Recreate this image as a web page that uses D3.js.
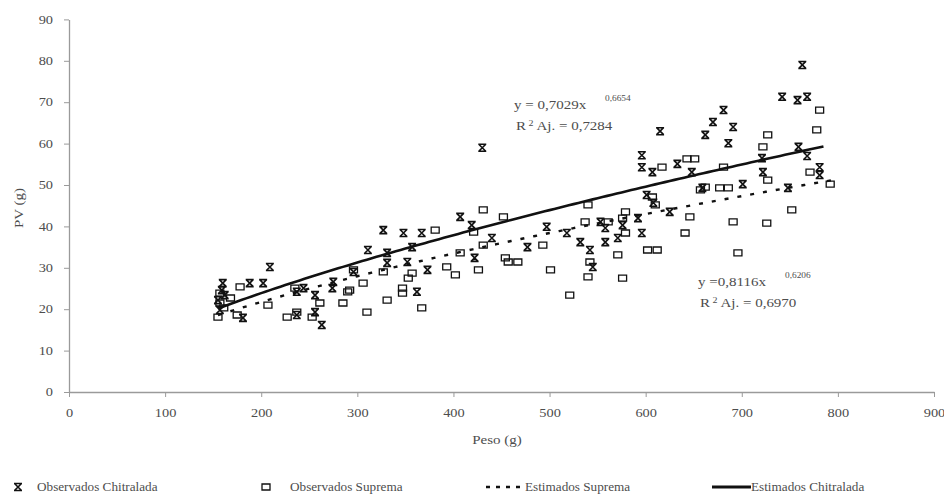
<!DOCTYPE html>
<html>
<head>
<meta charset="utf-8">
<script src="https://cdn.jsdelivr.net/npm/d3@7"></script>
<style>
  html, body { margin: 0; padding: 0; background: #fff; }
  svg { display: block; }
  text { font-family: "Liberation Serif", "DejaVu Serif", serif; }
</style>
</head>
<body>
<svg id="chart" width="944" height="504"></svg>
<script>
// Peso (g) vs PV (g), tilapia strains Chitralada and Suprema
const chitraladaPeso = [160,159,155,157,162,188,202,209,181,237,237,256,263,274,296,244,256,
  311,327,348,367,357,331,331,352,373,275,362,407,419,440,422,430,
  477,497,518,553,558,532,542,558,576,592,596,545,625,601,608,571,
  763,742,758,768,681,670,691,662,686,615,721,759,768,596,596,607,633,648,722,701,659,748,781,781];
const chitraladaPV = [26.3,24.6,22.2,19.8,23.4,26.3,26.3,30.2,17.9,18.6,24.2,19.3,16.2,25.1,29.0,25.1,23.4,
  34.3,39.1,38.4,38.4,35.0,33.6,31.2,31.4,29.5,26.6,24.2,42.3,40.3,37.2,32.4,59.0,
  35.0,39.9,38.4,41.1,39.6,36.2,34.3,36.2,40.3,42.0,38.4,30.2,43.5,47.6,45.7,37.2,
  79.0,71.3,70.5,71.3,68.1,65.2,64.0,62.1,60.1,63.0,56.5,59.2,57.0,57.2,54.3,53.1,55.1,53.1,53.1,50.2,49.3,49.3,54.3,52.4];

const supremaPeso = [157,157,155,178,175,207,227,253,261,285,292,161,168,
  381,431,452,421,431,407,426,393,402,454,357,353,327,296,306,290,235,237,310,331,347,347,367,
  540,537,561,579,576,579,571,542,540,576,602,612,641,646,493,457,467,501,521,607,657,
  781,778,727,722,617,643,651,681,727,662,677,686,771,792,752,610,726,691,696];
const supremaPV = [23.9,21.5,18.1,25.4,18.6,21.0,18.1,18.1,21.5,21.5,24.6,20.3,22.7,
  39.1,44.0,42.3,38.6,35.5,33.6,29.5,30.2,28.3,32.4,28.7,27.5,29.0,29.5,26.3,24.2,25.1,19.3,19.3,22.2,23.9,25.1,20.3,
  45.2,41.1,41.1,43.5,42.0,38.4,33.1,31.4,27.8,27.5,34.3,34.3,38.4,42.3,35.5,31.4,31.4,29.5,23.4,47.1,48.8,
  68.1,63.3,62.1,59.2,54.3,56.3,56.3,54.3,51.2,49.5,49.3,49.3,53.1,50.2,44.0,45.2,40.8,41.1,33.6];

// Fitted power curves y = a * x^b
const fitChitralada = { a: 0.7029, b: 0.6654, r2: "0,7284", from: 155, to: 785 };
const fitSuprema    = { a: 0.8116, b: 0.6206, r2: "0,6970", from: 155, to: 795 };

const xTicks = [0,100,200,300,400,500,600,700,800,900];
const yTicks = [0,10,20,30,40,50,60,70,80,90];

const legendLabels = ["Observados Chitralada", "Observados Suprema", "Estimados Suprema", "Estimados Chitralada"];

const svg = d3.select("#chart");
const x = d3.scaleLinear().domain([0, 900]).range([69, 934]);
const y = d3.scaleLinear().domain([0, 90]).range([392, 19.4]);

const axisColor = "#9a9a9a";
const textColor = "#4d4d4d";
const markColor = "#111";
const SX = 1.25;          // horizontal stretch of the serif lettering
const fs = "12px";

// text drawn at (px, py), stretched horizontally around its anchor
function label(parent, px, py, txt, size, anchor, sx) {
  return parent.append("text")
    .attr("transform", `translate(${px},${py}) scale(${sx || SX},1)`)
    .attr("text-anchor", anchor || "start")
    .attr("fill", textColor)
    .style("font-size", size || fs)
    .text(txt);
}

// axes
const gx = svg.append("g").attr("transform", `translate(0,${y(0)})`)
  .call(d3.axisBottom(x).tickValues(xTicks).tickSize(5).tickSizeOuter(0).tickPadding(12));
const gy = svg.append("g").attr("transform", `translate(${x(0)},0)`)
  .call(d3.axisLeft(y).tickValues(yTicks).tickSize(5).tickSizeOuter(0).tickPadding(11));
[gx, gy].forEach(g => {
  g.selectAll("path.domain").attr("stroke", axisColor).attr("stroke-width", 1.3);
  g.selectAll(".tick line").attr("stroke", axisColor).attr("stroke-width", 1);
  g.selectAll(".tick text").attr("fill", textColor)
    .style("font-family", '"Liberation Serif", serif').style("font-size", "11.5px");
});
gx.selectAll(".tick text").attr("transform", `scale(${SX},1)`);
gy.selectAll(".tick text").each(function () {
  const t = d3.select(this);
  t.attr("x", +t.attr("x") / SX).attr("transform", `scale(${SX},1)`);
});

// axis titles
label(svg, 497, 444, "Peso (g)", fs, "middle");
svg.append("text").attr("transform", `translate(23,208) rotate(-90) scale(${SX},1)`)
  .attr("text-anchor", "middle").attr("fill", textColor).style("font-size", fs).text("PV (g)");

// fitted curves
function curvePoints(fit) {
  const pts = [];
  for (let g = fit.from; g <= fit.to; g += 5) pts.push([g, fit.a * Math.pow(g, fit.b)]);
  return pts;
}
const line = d3.line().x(d => x(d[0])).y(d => y(d[1]));

// markers
const crossPath = "M-4,-3.5 L4,-3.5 M-4,3.5 L4,3.5 M-3.5,-3.5 L3.5,3.5 M3.5,-3.5 L-3.5,3.5";
const squarePath = "M-4,-3 h8 v6 h-8 z";

svg.append("g").selectAll("path").data(d3.zip(supremaPeso, supremaPV)).join("path")
  .attr("transform", d => `translate(${x(d[0])},${y(d[1])})`)
  .attr("d", squarePath).attr("fill", "none").attr("stroke", markColor).attr("stroke-width", 1.3);

svg.append("g").selectAll("path").data(d3.zip(chitraladaPeso, chitraladaPV)).join("path")
  .attr("transform", d => `translate(${x(d[0])},${y(d[1])})`)
  .attr("d", crossPath).attr("fill", "none").attr("stroke", markColor).attr("stroke-width", 1.6);

svg.append("path").datum(curvePoints(fitSuprema)).attr("d", line)
  .attr("fill", "none").attr("stroke", markColor).attr("stroke-width", 2.4)
  .attr("stroke-dasharray", "4,9");
svg.append("path").datum(curvePoints(fitChitralada)).attr("d", line)
  .attr("fill", "none").attr("stroke", markColor).attr("stroke-width", 2.6);

// equation labels
const comma = v => v.toFixed(4).replace(".", ",");
function equation(fit, px, py, supX, eqText) {
  const g = svg.append("g");
  label(g, px, py, eqText);
  label(g, supX, py - 8, comma(fit.b), "7.5px");
  const r = label(g, px + 2, py + 21, "");
  r.append("tspan").text("R");
  r.append("tspan").attr("dy", -4).style("font-size", "8px").text(" 2");
  r.append("tspan").attr("dy", 4).text(" Aj. = " + fit.r2);
}
equation(fitChitralada, 514, 109, 605, "y = " + comma(fitChitralada.a) + "x");
equation(fitSuprema, 698, 286, 785, "y =" + comma(fitSuprema.a) + "x");

// legend
const ly = 491;
const LS = 1.1;
const lg = svg.append("g");
lg.append("path").attr("transform", `translate(18,${ly - 4})`).attr("d", crossPath)
  .attr("fill", "none").attr("stroke", markColor).attr("stroke-width", 1.6);
label(lg, 37, ly, legendLabels[0], fs, "start", LS);
lg.append("path").attr("transform", `translate(266,${ly - 4})`).attr("d", squarePath)
  .attr("fill", "none").attr("stroke", markColor).attr("stroke-width", 1.3);
label(lg, 290, ly, legendLabels[1], fs, "start", LS);
lg.append("line").attr("x1", 486).attr("x2", 524).attr("y1", ly - 4).attr("y2", ly - 4)
  .attr("stroke", markColor).attr("stroke-width", 2.4).attr("stroke-dasharray", "4,6");
label(lg, 525, ly, legendLabels[2], fs, "start", LS);
lg.append("line").attr("x1", 712).attr("x2", 751).attr("y1", ly - 4).attr("y2", ly - 4)
  .attr("stroke", markColor).attr("stroke-width", 2.8);
label(lg, 751, ly, legendLabels[3], fs, "start", LS);
</script>
</body>
</html>
